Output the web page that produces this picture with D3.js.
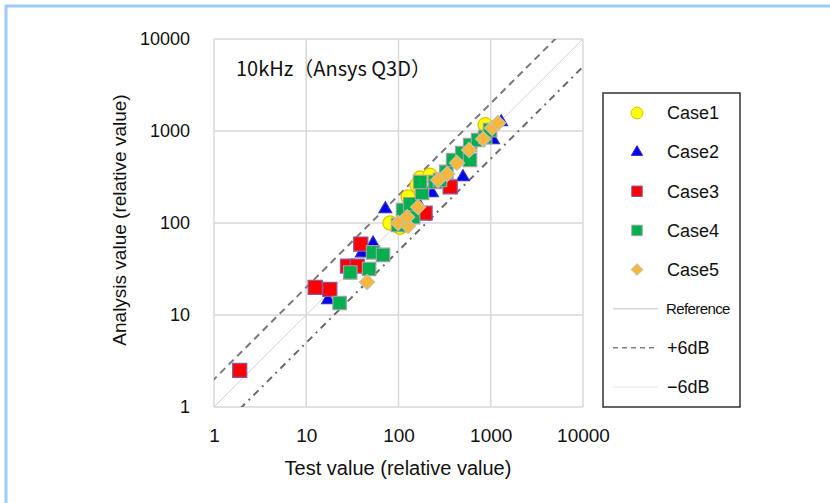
<!DOCTYPE html>
<html>
<head>
<meta charset="utf-8">
<script src="https://cdn.jsdelivr.net/npm/d3@7"></script>
<style>
  body { margin: 0; background: #fff; }
  svg text { fill: #111; }
</style>
</head>
<body>
<div id="chart"></div>
<script>
var width = 830, height = 503;

// values: [test value, analysis value]
var case1 = [[81, 100], [104, 90], [127, 192], [159, 258], [172, 308], [219, 330], [870, 1170]];
var case2 = [[17.2, 14.6], [40, 47], [53, 60], [72, 142], [160, 170], [231, 212], [500, 316], [1060, 800], [1300, 1250]];
var case3 = [[1.9, 2.5], [12.5, 20], [18, 19], [39, 59], [28, 34], [35.6, 34], [194, 128], [363, 247]];
var case4 = [[23, 13.5], [30, 29], [48, 31.6], [53, 48], [68, 45], [99, 95], [112, 138], [144, 116], [134, 160],
             [180, 212], [172, 279], [251, 279], [282, 293], [330, 360], [391, 484], [490, 574], [596, 484],
             [598, 704], [730, 798], [870, 860], [983, 1023]];
var case5 = [[45.6, 22.8], [99, 100], [127, 93], [124, 116], [163, 149], [269, 293], [337, 341], [430, 450],
             [583, 621], [828, 819], [1036, 1080], [1200, 1222]];
var tickValues = [1, 10, 100, 1000, 10000];
var legendNames = ["Case1", "Case2", "Case3", "Case4", "Case5", "Reference", "+6dB", "\u22126dB"];

var svg = d3.select("#chart").append("svg").attr("width", width).attr("height", height);

// light blue frame
svg.append("rect").attr("x", 6).attr("y", 6).attr("width", 840).attr("height", 520)
  .attr("fill", "none").attr("stroke", "#9fcaf6").attr("stroke-width", 3);

var x = d3.scaleLog().domain([1, 10000]).range([214, 583]);
var y = d3.scaleLog().domain([1, 10000]).range([407, 39]);

var plot = svg.append("g");
plot.append("defs").append("clipPath").attr("id", "clip")
  .append("rect").attr("x", 214).attr("y", 39).attr("width", 369).attr("height", 368);

// grid
plot.selectAll(".vg").data(tickValues).enter().append("line")
  .attr("x1", function(d){ return x(d) }).attr("x2", function(d){ return x(d) })
  .attr("y1", y(1)).attr("y2", y(10000))
  .attr("stroke", "#d9d9d9").attr("stroke-width", 1.5);
plot.selectAll(".hg").data(tickValues).enter().append("line")
  .attr("y1", function(d){ return y(d) }).attr("y2", function(d){ return y(d) })
  .attr("x1", x(1)).attr("x2", x(10000))
  .attr("stroke", "#d9d9d9").attr("stroke-width", 1.5);

// reference lines
var lines = plot.append("g").attr("clip-path", "url(#clip)");
var lineDefs = [
  {k: 1, stroke: "#d4d4d4", w: 1, dash: null},
  {k: 2, stroke: "#7a7a7a", w: 2, dash: "7,5"},
  {k: 0.5, stroke: "#6a6a6a", w: 2, dash: "7,5,2,5"}
];
lineDefs.forEach(function(l){
  lines.append("line")
    .attr("x1", x(0.5)).attr("y1", y(0.5 * l.k))
    .attr("x2", x(20000)).attr("y2", y(20000 * l.k))
    .attr("stroke", l.stroke).attr("stroke-width", l.w)
    .attr("stroke-dasharray", l.dash);
});

// axis tick labels
var yAxis = d3.axisLeft(y).tickValues(tickValues).tickFormat(d3.format("d")).tickSize(0).tickPadding(24);
var yg = svg.append("g").attr("transform", "translate(214,0)").call(yAxis);
yg.select(".domain").remove();
yg.selectAll("text").attr("font-family", "Liberation Sans, Arial, sans-serif").attr("font-size", 18).attr("fill", "#111");

var xAxis = d3.axisBottom(x).tickValues(tickValues).tickFormat(d3.format("d")).tickSize(0).tickPadding(22);
var xg = svg.append("g").attr("transform", "translate(0,407)").call(xAxis);
xg.select(".domain").remove();
xg.selectAll("text").attr("font-family", "Liberation Sans Narrow, Liberation Sans, sans-serif").attr("font-size", 19).attr("fill", "#111");

// axis titles
svg.append("text").attr("x", 398).attr("y", 475).attr("text-anchor", "middle")
  .attr("font-family", "Liberation Sans Narrow, Liberation Sans, sans-serif").attr("font-size", 20)
  .text("Test value (relative value)");
svg.append("text").attr("transform", "translate(126,220) rotate(-90)").attr("text-anchor", "middle")
  .attr("font-family", "Liberation Sans, Arial, sans-serif").attr("font-size", 19)
  .text("Analysis value (relative value)");

svg.append("text").attr("x", 236).attr("y", 76)
  .attr("font-family", "Noto Sans CJK JP, sans-serif").attr("font-size", 20)
  .text("10kHz\uff08Ansys Q3D\uff09");

// markers (diamond = square turned 45 degrees)
var series = [
  {data: case1, type: d3.symbolCircle, size: 160, rot: 0, fill: "#ffff00", stroke: "#d8c400"},
  {data: case2, type: d3.symbolTriangle, size: 70, rot: 0, fill: "#0000f0", stroke: "#3030c0"},
  {data: case3, type: d3.symbolSquare, size: 200, rot: 0, fill: "#ff0000", stroke: "#8a5aa8"},
  {data: case4, type: d3.symbolSquare, size: 180, rot: 0, fill: "#00b050", stroke: "#a0a0a0"},
  {data: case5, type: d3.symbolSquare, size: 115, rot: 45, fill: "#f6b73c", stroke: "#c8c0a8"}
];
series.forEach(function(s){
  plot.append("g").selectAll("path").data(s.data).enter().append("path")
    .attr("transform", function(d){ return "translate(" + x(d[0]) + "," + y(d[1]) + ") rotate(" + s.rot + ")" })
    .attr("d", d3.symbol().type(s.type).size(s.size))
    .attr("fill", s.fill).attr("stroke", s.stroke).attr("stroke-width", 1.2);
});

// legend
var lg = svg.append("g");
lg.append("rect").attr("x", 603).attr("y", 93).attr("width", 137).attr("height", 314)
  .attr("fill", "#fff").attr("stroke", "#333").attr("stroke-width", 1.5);
var legendY = d3.scalePoint().domain(legendNames).range([113, 387]);
var legendSizes = [110, 55, 110, 110, 65];
series.forEach(function(s, i){
  lg.append("path")
    .attr("transform", "translate(637," + legendY(legendNames[i]) + ") rotate(" + s.rot + ")")
    .attr("d", d3.symbol().type(s.type).size(legendSizes[i]))
    .attr("fill", s.fill).attr("stroke", s.stroke).attr("stroke-width", 1);
});
var legendLines = [
  {stroke: "#d8d8d8", dash: null},
  {stroke: "#808080", dash: "5,4"},
  {stroke: "#eeeeee", dash: null}
];
legendLines.forEach(function(l, i){
  lg.append("line").attr("x1", 613).attr("x2", 658)
    .attr("y1", legendY(legendNames[5 + i])).attr("y2", legendY(legendNames[5 + i]))
    .attr("stroke", l.stroke).attr("stroke-width", 1.5).attr("stroke-dasharray", l.dash);
});
lg.selectAll(".lt").data(legendNames).enter().append("text")
  .attr("x", function(d, i){ return i == 5 ? 666 : 667 })
  .attr("y", function(d){ return legendY(d) })
  .attr("dy", "0.35em")
  .attr("font-family", "Liberation Sans, Arial, sans-serif")
  .attr("font-size", function(d, i){ return i == 5 ? 15 : 18 })
  .attr("letter-spacing", function(d, i){ return i == 5 ? -0.6 : 0 })
  .text(function(d){ return d });
</script>
</body>
</html>
